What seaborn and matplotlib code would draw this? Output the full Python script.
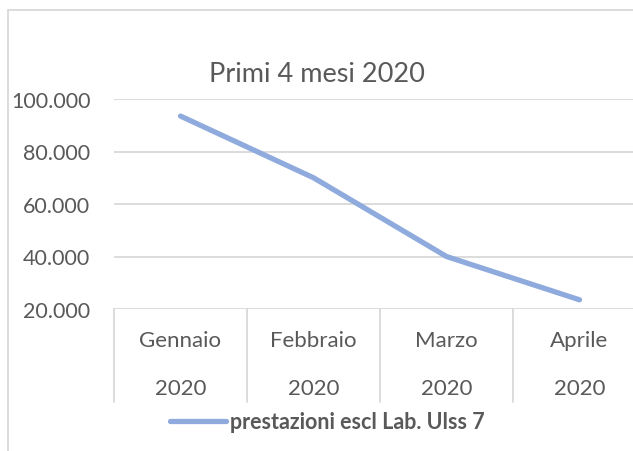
import pandas as pd
import seaborn as sns
import matplotlib.pyplot as plt
from matplotlib.lines import Line2D

# dati
mesi = ["Gennaio", "Febbraio", "Marzo", "Aprile"]
anni = ["2020", "2020", "2020", "2020"]
prestazioni = [93500, 70000, 40000, 23500]
y_ticks = [20000, 40000, 60000, 80000, 100000]
y_labels = ["20.000", "40.000", "60.000", "80.000", "100.000"]
titolo = "Primi 4 mesi 2020"
serie = "prestazioni escl Lab. Ulss 7"

sns.set_style("white")
plt.rcParams["font.family"] = ["Lato", "DejaVu Sans"]

grigio = "#595959"
griglia = "#D9D9D9"
blu = "#8FAADC"

df = pd.DataFrame({"mese": mesi, "valore": prestazioni})

fig = plt.figure(figsize=(6.33, 4.52), dpi=100)
ax = fig.add_axes([114 / 633, 1 - 310 / 452, 532 / 633, 210 / 452])

sns.lineplot(data=df, x="mese", y="valore", ax=ax, color=blu, linewidth=3.8,
             solid_capstyle="round", legend=False)

ax.set_xlim(-0.5, len(mesi) - 0.5)
ax.set_ylim(y_ticks[0], y_ticks[-1])
ax.set_yticks(y_ticks)
ax.set_yticklabels(y_labels, color=grigio, fontsize=15.5)
ax.tick_params(axis="y", length=0, pad=17)
ax.set_xticks([])
ax.set_xlabel("")
ax.set_ylabel("")
for s in ax.spines.values():
    s.set_visible(False)
for y in y_ticks:
    ax.axhline(y, color=griglia, lw=1.3, zorder=0)

# tabella delle categorie sotto l'asse
tr = ax.get_xaxis_transform()
for i in range(len(mesi) + 1):
    ax.plot([i - 0.5, i - 0.5], [0, -0.445], transform=tr, color=griglia,
            lw=1.3, clip_on=False)
for i, (m, a) in enumerate(zip(mesi, anni)):
    ax.text(i, -0.15, m, transform=tr, ha="center", va="center",
            color=grigio, fontsize=16)
    ax.text(i, -0.375, a, transform=tr, ha="center", va="center",
            color=grigio, fontsize=16)

fig.text(0.5, 1 - 75 / 452, titolo, ha="center", va="center",
         color=grigio, fontsize=19.5)

h = Line2D([], [], color=blu, lw=3.8, solid_capstyle="round")
leg = fig.legend([h], [serie], loc="center", bbox_to_anchor=(0.517, 1 - 423 / 452),
                 frameon=False, handlelength=2.6, handletextpad=0.2,
                 prop={"weight": "bold", "size": 15.5})
for t in leg.get_texts():
    t.set_color(grigio)

# bordo dell'area del grafico
fig.add_artist(Line2D([8 / 633, 8 / 633], [0, 1 - 11 / 452], color=griglia, lw=1.3))
fig.add_artist(Line2D([8 / 633, 1], [1 - 11 / 452, 1 - 11 / 452], color=griglia, lw=1.3))

fig.savefig("out.png", dpi=100, facecolor="white")
